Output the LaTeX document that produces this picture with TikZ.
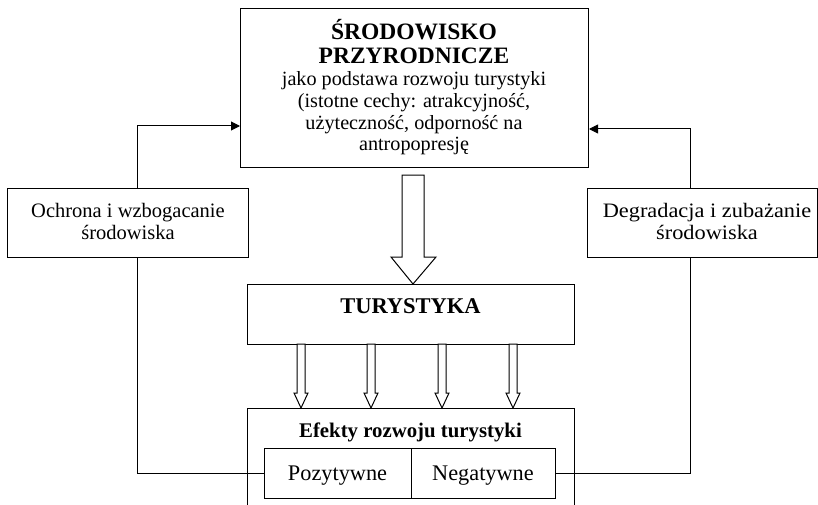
\documentclass[tikz,border=0pt]{standalone}
\usepackage{fontspec}
\setmainfont{Liberation Serif}
\usetikzlibrary{arrows.meta}
\begin{document}
\begin{tikzpicture}[x=1pt,y=-1pt,
  line width=1pt,
  box/.style={draw, rectangle, inner sep=0pt, anchor=north west},
  txt/.style={inner sep=0pt, anchor=base},
  body/.style={txt, font=\fontsize{20.2}{22}\selectfont},
  side/.style={txt, font=\fontsize{20.5}{22}\selectfont},
  head/.style={txt, font=\fontsize{23.5}{24}\selectfont\bfseries},
  link/.style={-{Triangle[length=9pt,width=9pt]}},
  hollow/.style={draw, fill=white, line join=miter}
]
\useasboundingbox (0,0) rectangle (818,505);

% natural environment box
\node[box, minimum width=348pt, minimum height=159pt] (srod) at (240,8) {};
\node[head] (s1) at (414,40) {ŚRODOWISKO};
\node[head] (s2) at (414,64) {PRZYRODNICZE};
\node[body] (s3) at (414,86) {jako podstawa rozwoju turystyki};
\node[body] (s4) at (414,108) {(istotne cechy: atrakcyjność,};
\node[body] (s5) at (414,129.5) {użyteczność, odporność na};
\node[body] (s6) at (414,151) {antropopresję};

% tourism box
\node[box, minimum width=327pt, minimum height=60pt] (tur) at (247,284) {};
\node[txt, font=\fontsize{22.5}{24}\selectfont\bfseries] (turtxt) at (410.5,313) {TURYSTYKA};

% effects box, open at the bottom
\draw (247,505) -- (247,408) -- (574,408) -- (574,505);
\node[txt, font=\fontsize{20.8}{22}\selectfont\bfseries] (eftxt) at (410.5,437) {Efekty rozwoju turystyki};
\node[box, minimum width=147pt, minimum height=50pt] (poz) at (264,448) {};
\node[box, minimum width=144pt, minimum height=50pt] (neg) at (411,448) {};
\node[txt, font=\fontsize{22.3}{24}\selectfont] (poztxt) at (337.5,480) {Pozytywne};
\node[txt, font=\fontsize{22.3}{24}\selectfont] (negtxt) at (483,480) {Negatywne};

% side boxes
\node[box, minimum width=241pt, minimum height=69pt] (ochr) at (7,188) {};
\node[side] (o1) at (128,217) {Ochrona i wzbogacanie};
\node[side] (o2) at (128,239) {środowiska};
\node[box, minimum width=230pt, minimum height=69pt] (degr) at (587,188) {};
\node[side] (d1) at (707,217) {\scalebox{1.09}[1]{Degradacja i zubażanie}};
\node[side] (d2) at (707,239) {\scalebox{1.09}[1]{środowiska}};

% feedback connectors
\coordinate (xl) at (137,126);
\coordinate (xr) at (690,129);
\draw[link] (xl |- ochr.north) |- (xl -| srod.west);
\draw (xl |- ochr.south) |- (poz.west);
\draw[link] (xr |- degr.north) |- (xr -| srod.east);
\draw (xr |- degr.south) |- (neg.east);

% wide hollow arrow into tourism
\draw[hollow] (402,175) -- (424,175) -- (424,257) -- (436,257) -- (413,284)
  -- (391,257) -- (402,257) -- cycle;

% four narrow hollow arrows to the effects
\foreach \cx in {301,371,442,513}{
  \draw[hollow] (\cx-4,344) -- (\cx+4,344) -- (\cx+4,393) -- (\cx+7,393)
    -- (\cx,408) -- (\cx-7,393) -- (\cx-4,393) -- cycle;
}
\end{tikzpicture}
\end{document}
